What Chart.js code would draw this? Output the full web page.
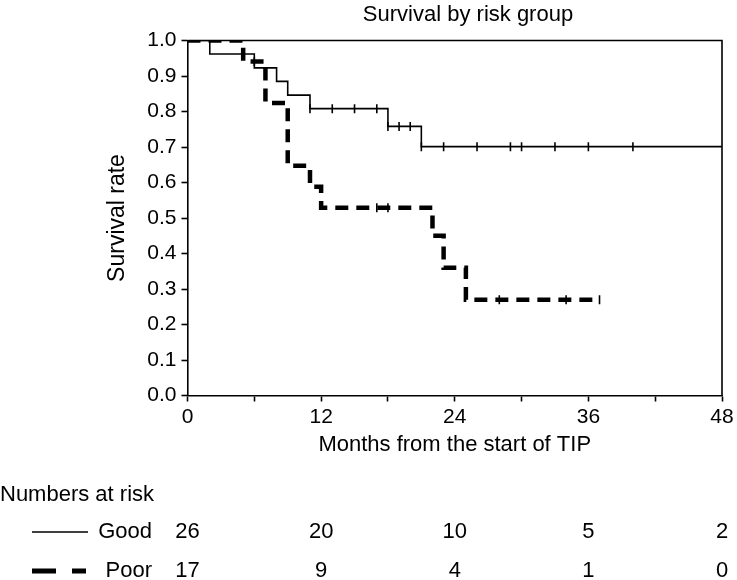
<!DOCTYPE html>
<html>
<head>
<meta charset="utf-8">
<script src="https://cdn.jsdelivr.net/npm/chart.js@4"></script>
<style>
  html, body { margin: 0; padding: 0; background: #fff; }
  #wrap { width: 737px; height: 580px; }
</style>
</head>
<body>
<div id="wrap"><canvas id="kmChart" width="737" height="580"></canvas></div>
<script>
// Kaplan-Meier steps (months, survival)
const goodTimes = [0, 2, 6, 8, 9, 11, 18, 21, 48];
const goodSurvival = [1, 0.962, 0.923, 0.885, 0.846, 0.808, 0.758, 0.701, 0.701];
const poorTimes = [0, 5, 7, 9, 11, 12, 22, 23, 25, 37];
const poorSurvival = [1, 0.941, 0.824, 0.647, 0.588, 0.529, 0.45, 0.36, 0.27, 0.27];

// censored observations (months)
const goodCensored = [11, 13, 15, 17, 18, 19, 20, 21, 23, 26, 29, 30, 33, 36, 40];
const poorCensored = [6, 17, 18, 28, 34, 37];

// numbers at risk table
const riskTimes = [0, 12, 24, 36, 48];
const goodAtRisk = [26, 20, 10, 5, 2];
const poorAtRisk = [17, 9, 4, 1, 0];

const yTicks = [0, 0.1, 0.2, 0.3, 0.4, 0.5, 0.6, 0.7, 0.8, 0.9, 1.0];

const FONT = "'Liberation Sans', Arial, Helvetica, sans-serif";

function toPoints(times, surv) {
  return times.map((t, i) => ({ x: t, y: surv[i] }));
}

// survival level of a step curve at time t
function survivalAt(times, surv, t) {
  let s = surv[0];
  for (let i = 0; i < times.length; i++) {
    if (times[i] <= t) s = surv[i];
  }
  return s;
}

function censorPoints(cens, times, surv) {
  return cens.map(t => ({ x: t, y: survivalAt(times, surv, t) }));
}

const extras = {
  id: 'extras',
  beforeDatasetsDraw(chart) {
    const { ctx, chartArea } = chart;
    ctx.save();
    ctx.strokeStyle = '#000';
    ctx.lineWidth = 1.6;
    ctx.beginPath();
    ctx.moveTo(chartArea.left, chartArea.top);
    ctx.lineTo(chartArea.right, chartArea.top);
    ctx.lineTo(chartArea.right, chartArea.bottom);
    ctx.stroke();
    ctx.restore();
  },
  afterDraw(chart) {
    const { ctx } = chart;
    const x = chart.scales.x;
    ctx.save();
    ctx.fillStyle = '#000';
    ctx.strokeStyle = '#000';
    ctx.font = '22px ' + FONT;
    ctx.textBaseline = 'middle';

    // chart title
    ctx.textAlign = 'center';
    ctx.fillText('Survival by risk group', 468, 15);

    // numbers at risk
    ctx.textAlign = 'left';
    ctx.fillText('Numbers at risk', 0, 495);

    const rowGood = 532, rowPoor = 571;
    ctx.lineWidth = 1.6;
    ctx.beginPath();
    ctx.moveTo(32, rowGood);
    ctx.lineTo(88, rowGood);
    ctx.stroke();

    ctx.lineWidth = 5;
    ctx.setLineDash([24, 16]);
    ctx.beginPath();
    ctx.moveTo(32, rowPoor);
    ctx.lineTo(86, rowPoor);
    ctx.stroke();
    ctx.setLineDash([]);

    ctx.textAlign = 'right';
    ctx.fillText('Good', 152, rowGood);
    ctx.fillText('Poor', 152, rowPoor);

    ctx.textAlign = 'center';
    riskTimes.forEach((t, i) => {
      const px = x.getPixelForValue(t);
      ctx.fillText(String(goodAtRisk[i]), px, rowGood);
      ctx.fillText(String(poorAtRisk[i]), px, rowPoor);
    });
    ctx.restore();
  }
};

new Chart(document.getElementById('kmChart'), {
  type: 'scatter',
  data: {
    datasets: [
      {
        label: 'Poor censored',
        data: censorPoints(poorCensored, poorTimes, poorSurvival),
        pointStyle: 'line',
        rotation: 90,
        pointRadius: 4.5,
        pointBorderWidth: 1.6,
        pointBorderColor: '#000',
        showLine: false
      },
      {
        label: 'Good censored',
        data: censorPoints(goodCensored, goodTimes, goodSurvival),
        pointStyle: 'line',
        rotation: 90,
        pointRadius: 4.5,
        pointBorderWidth: 1.6,
        pointBorderColor: '#000',
        showLine: false
      },
      {
        label: 'Poor',
        data: toPoints(poorTimes, poorSurvival),
        showLine: true,
        stepped: 'before',
        borderColor: '#000',
        borderWidth: 4.5,
        borderDash: [13, 8],
        borderCapStyle: 'butt',
        pointRadius: 0,
        fill: false
      },
      {
        label: 'Good',
        data: toPoints(goodTimes, goodSurvival),
        showLine: true,
        stepped: 'before',
        borderColor: '#000',
        borderWidth: 1.6,
        pointRadius: 0,
        fill: false
      }
    ]
  },
  options: {
    responsive: false,
    animation: false,
    devicePixelRatio: 1,
    layout: { padding: { left: 0, right: 15, top: 40.5, bottom: 119.5 } },
    plugins: {
      legend: { display: false },
      tooltip: { enabled: false },
      title: { display: false }
    },
    scales: {
      x: {
        type: 'linear',
        min: 0,
        max: 48,
        afterFit: s => { s.height = 65; },
        border: { display: true, color: '#000', width: 1.6 },
        grid: { drawOnChartArea: false, drawTicks: true, tickLength: 6, color: '#000', tickWidth: 1.6 },
        ticks: {
          stepSize: 6,
          padding: 3,
          color: '#000',
          maxRotation: 0,
          autoSkip: false,
          font: { family: FONT, size: 21 },
          callback: v => (v % 12 === 0 ? String(v) : '')
        },
        title: {
          display: true,
          text: 'Months from the start of TIP',
          color: '#000',
          font: { family: FONT, size: 22 },
          padding: { top: 0, bottom: 2 }
        }
      },
      y: {
        min: 0,
        max: 1,
        afterFit: s => { s.width = 187.5; },
        afterBuildTicks: s => { s.ticks = yTicks.map(v => ({ value: v })); },
        border: { display: true, color: '#000', width: 1.6 },
        grid: { drawOnChartArea: false, drawTicks: true, tickLength: 6, color: '#000', tickWidth: 1.6 },
        ticks: {
          padding: 5,
          color: '#000',
          font: { family: FONT, size: 21 },
          callback: v => v.toFixed(1)
        },
        title: {
          display: true,
          text: 'Survival rate',
          color: '#000',
          font: { family: FONT, size: 23 },
          padding: { top: 104, bottom: 0 }
        }
      }
    }
  },
  plugins: [extras]
});
</script>
</body>
</html>
